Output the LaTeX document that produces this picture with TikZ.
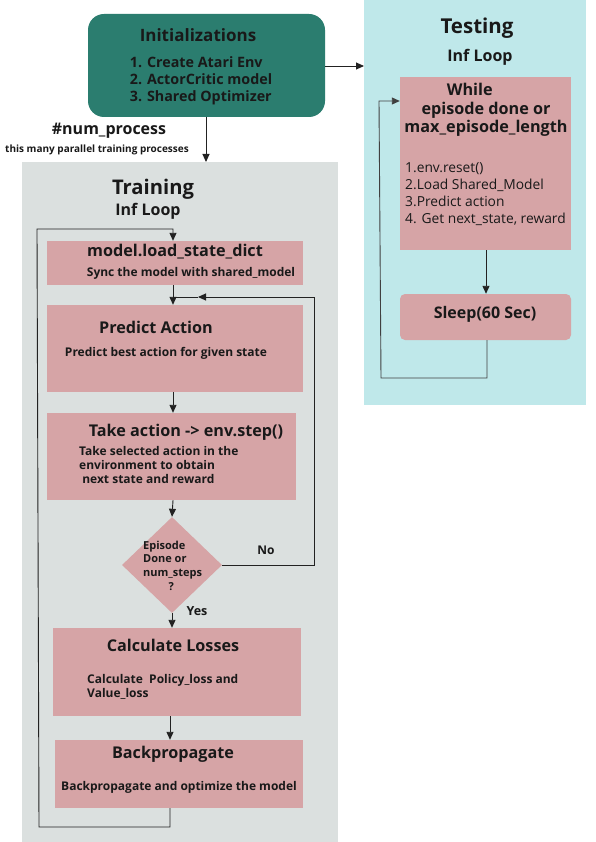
\documentclass[tikz,border=0pt]{standalone}
\usepackage{fontspec}
\setmainfont{Open Sans}
\usetikzlibrary{shapes.geometric,arrows.meta}
\definecolor{initc}{HTML}{2B7D6F}
\definecolor{trainc}{HTML}{DBE0DF}
\definecolor{testc}{HTML}{BFE8EA}
\definecolor{boxc}{HTML}{D6A4A6}
\definecolor{linec}{HTML}{222222}
\tikzset{
  panel/.style={draw=none, inner sep=0pt},
  box/.style={fill=boxc, draw=none, inner sep=0pt},
  ttl/.style={font=\bfseries\fontsize{16.2}{19}\selectfont, inner sep=0pt, text=black!90},
  sub/.style={font=\bfseries\fontsize{12}{14}\selectfont, inner sep=0pt, text=black!90},
  conn/.style={draw=linec, line width=0.9pt},
  arr/.style={conn, -{Triangle[width=7pt,length=8pt]}},
}
\begin{document}
\begin{tikzpicture}[x=1pt,y=-1pt]
\useasboundingbox (0,0) rectangle (595,842);
\fill[white] (0,0) rectangle (595,842);
% panels
\node[panel, fill=trainc, minimum width=316pt, minimum height=680pt] (train) at (180,502) {};
\node[panel, fill=testc, minimum width=222pt, minimum height=405pt] (test) at (475,202.5) {};
% init
\node[panel, fill=initc, rounded corners=16pt, minimum width=237pt, minimum height=103pt] (init) at (206.5,65.5) {};
\node[ttl, font=\bfseries\fontsize{17}{20}\selectfont] (initt) at (198,35) {Initializations};
\node[inner sep=0pt, font=\bfseries\fontsize{14.3}{17}\selectfont, align=left, text=black!90] (initl) at (201,81) {1. Create Atari Env\\2. ActorCritic model\\3. Shared Optimizer};
% num process
\node[inner sep=0pt, font=\bfseries\fontsize{16}{18}\selectfont, text=black!90] (nump) at (109,131) {\#num\_process};
\node[inner sep=0pt, font=\bfseries\fontsize{10}{12}\selectfont, text=black!90] (numps) at (97,150) {this many parallel training processes};
% training titles
\node[inner sep=0pt, font=\bfseries\fontsize{20.2}{22}\selectfont, text=black!90] (traint) at (153,189) {Training};
\node[inner sep=0pt, font=\bfseries\fontsize{16}{18}\selectfont, text=black!90] (trainl) at (148,211) {Inf Loop};
% testing titles
\node[inner sep=0pt, font=\bfseries\fontsize{20.5}{22}\selectfont, text=black!90] (testt) at (477,28) {Testing};
\node[inner sep=0pt, font=\bfseries\fontsize{16}{18}\selectfont, text=black!90] (testl) at (480,57) {Inf Loop};
% training boxes
\node[box, minimum width=256pt, minimum height=44pt] (b1) at (175,263) {};
\node[ttl] (b1t) at (175,252) {model.load\_state\_dict};
\node[sub] (b1s) at (191,273) {Sync the model with shared\_model};
\node[box, minimum width=256pt, minimum height=87pt] (b2) at (175,348.5) {};
\node[ttl] (b2t) at (156,327) {Predict Action};
\node[sub] (b2s) at (166,353) {Predict best action for given state};
\node[box, minimum width=249pt, minimum height=87pt] (b3) at (171.5,456.5) {};
\node[ttl] (b3t) at (186,432) {Take action -> env.step()};
\node[sub, align=left, anchor=north west] (b3s) at (79,446) {Take selected action in the\\environment to obtain\\\ next state and reward};
\node[box, diamond, minimum width=100pt, minimum height=96pt] (dia) at (172,565) {};
\node[inner sep=0pt, font=\bfseries\fontsize{11}{13.7}\selectfont, align=left, anchor=north west, text=black!90] (diat) at (143,540.5) {Episode\\Done or\\num\_steps\\\hspace*{2.3em}?};
\node[box, minimum width=248pt, minimum height=88pt] (b4) at (177,672) {};
\node[ttl] (b4t) at (173,645) {Calculate Losses};
\node[sub, align=left, anchor=north west] (b4s) at (87,674) {Calculate\ \ Policy\_loss and\\Value\_loss};
\node[box, minimum width=248pt, minimum height=68pt] (b5) at (179,774) {};
\node[ttl] (b5t) at (173,754) {Backpropagate};
\node[sub] (b5s) at (179,787) {Backpropagate and optimize the model};
% testing boxes
\node[box, minimum width=171pt, minimum height=173pt] (w) at (485.5,163.5) {};
\node[ttl, align=center, font=\bfseries\fontsize{16.2}{18.5}\selectfont] (wt) at (486,110) {While\hspace*{2em}\\episode done or\\max\_episode\_length};
\node[inner sep=0pt, font=\fontsize{13.8}{17}\selectfont, align=left, anchor=north west, text=black!90] (wl) at (405,162) {1.env.reset()\\2.Load Shared\_Model\\3.Predict action\\4. Get next\_state, reward};
\node[box, rounded corners=5pt, minimum width=171pt, minimum height=46pt] (sl) at (485.5,317) {};
\node[inner sep=0pt, font=\bfseries\fontsize{16}{18}\selectfont, text=black!90] (slt) at (485,314) {Sleep(60 Sec)};
% labels
\node[inner sep=0pt, font=\bfseries\fontsize{12}{14}\selectfont, text=black!90] (no) at (266,550) {No};
\node[inner sep=0pt, font=\bfseries\fontsize{12.5}{14}\selectfont, text=black!90] (yes) at (197,611) {Yes};
% coordinates
\coordinate (initR) at (325,66);
\coordinate (testL) at (364,66);
\coordinate (initB) at (206,117);
\coordinate (trainT) at (206,162);
\coordinate (noA) at (314,297);
\coordinate (noB) at (198,297);
\coordinate (noJ) at (173,297);
\coordinate (lpA) at (170,827);
\coordinate (lpB) at (39,827);
\coordinate (lpC) at (37,229);
\coordinate (lpD) at (173,229);
\coordinate (tlA) at (381,378);
\coordinate (tlB) at (379,101);
% connectors
\draw[arr] (initR) -- (testL);
\draw[arr] (initB) -- (trainT);
\draw[arr] (b1.south -| 173,0) -- (b2.north -| 173,0);
\draw[arr] (b2.south -| 173,0) -- (b3.north -| 173,0);
\draw[arr] (b3.south -| 173,0) -- (dia.north);
\draw[arr] (dia.south) -- (b4.north -| dia.south);
\draw[arr] (b4.south -| 170,0) -- (b5.north -| 170,0);
\draw[arr] (dia.east) -| (noA) -- (noB);
\draw[conn] (noB) -- (noJ);
\draw[arr] (b5.south -| lpA) -- (lpA) -- (lpB) -- (lpC) -- (lpD) -- (b1.north -| lpD);
\draw[arr] (w.south -| 486,0) -- (sl.north -| 486,0);
\draw[arr, draw=black!75] (sl.south -| 487,0) |- (tlA) -- (tlB) -- (w.west |- tlB);
\end{tikzpicture}
\end{document}
